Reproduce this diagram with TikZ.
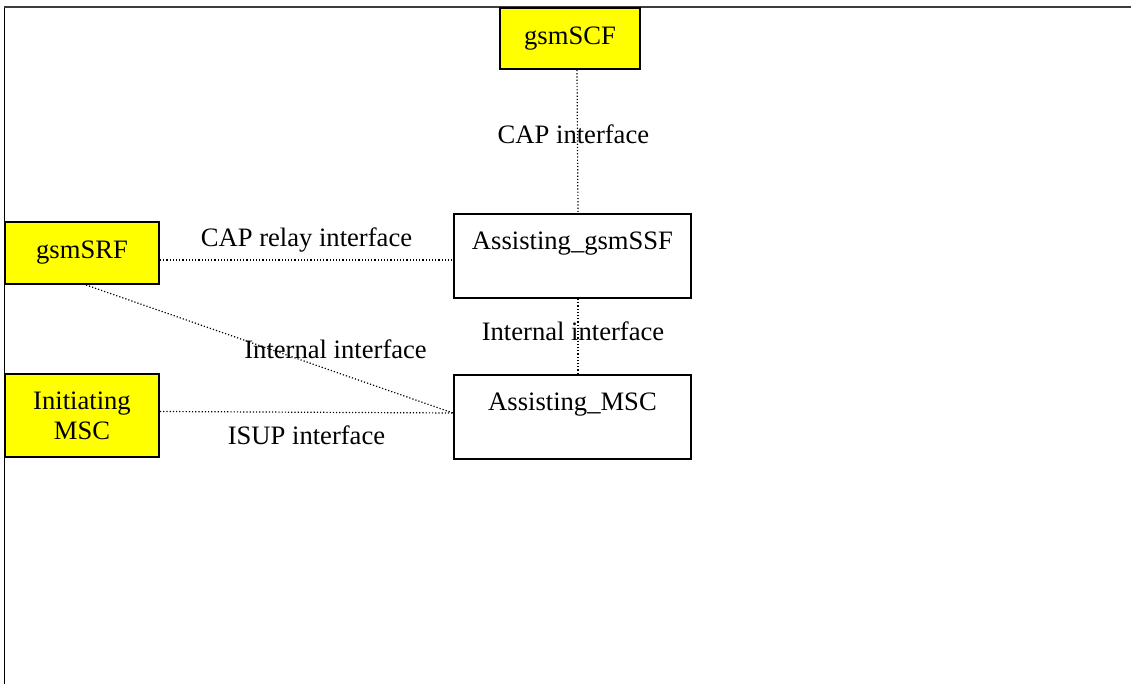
\documentclass[tikz,border=0pt]{standalone}
\usepackage{fontspec}
\setmainfont{Liberation Serif}
\usetikzlibrary{positioning, calc}
\definecolor{entitycolor}{RGB}{255,255,0}
\definecolor{framecolor}{RGB}{60,60,60}

\begin{document}
\begin{tikzpicture}[
    x=1pt, y=1pt,
    font=\fontsize{13.3}{15}\selectfont,
    entity/.style={rectangle, draw, line width=1pt, fill=entitycolor, minimum width=77pt, inner sep=0pt, align=center},
    funcbox/.style={rectangle, draw, line width=1pt, minimum width=118.5pt, inner sep=0pt, text height=18pt, text depth=24pt},
    link/.style={densely dotted, line width=0.6pt},
    node distance=37.5pt
]
    \useasboundingbox (0,0) rectangle (565.5,-342);

    % Frame
    \draw[line width=0.5pt] (2,-342) -- (2,-3.5);
    \draw[line width=1pt, framecolor] (2,-3.5) -- (565.5,-3.5);

    % Assisting side
    \node[entity, minimum width=70pt, minimum height=30.5pt, anchor=north] (scf) at (285,-3.5) {gsmSCF};
    \node[funcbox, anchor=north west] (ssf) at (226.5,-106.5) {Assisting\_gsmSSF};
    \node[funcbox, below=of ssf] (msc) {Assisting\_MSC};

    % Initiating side
    \node[entity, minimum height=41.5pt, anchor=north west] (init) at (2,-186.5) {Initiating\\MSC};
    \node[entity, minimum height=31pt, anchor=north west] (srf) at (2,-110.5) {gsmSRF};

    % Interfaces
    \draw[link] ([xshift=3.5pt]scf.south) -- node[pos=0.45, xshift=-2pt] {CAP interface} ([xshift=2.75pt]ssf.north);
    \draw[link] ([yshift=-3.5pt]srf.east) -- node[above] {CAP relay interface} ([yshift=-2pt]ssf.west);
    \draw[link] ([xshift=2.75pt]ssf.south) -- node[pos=0.43, xshift=-2.5pt] {Internal interface} ([xshift=2.75pt]msc.north);
    \draw[link] ([yshift=2pt]init.east) -- node[below=3pt] {ISUP interface} ([yshift=2pt]msc.west);
    \draw[link] ([xshift=2pt]srf.south) -- node[pos=0.68, above=3pt] {Internal interface} ([yshift=2pt]msc.west);

\end{tikzpicture}
\end{document}
